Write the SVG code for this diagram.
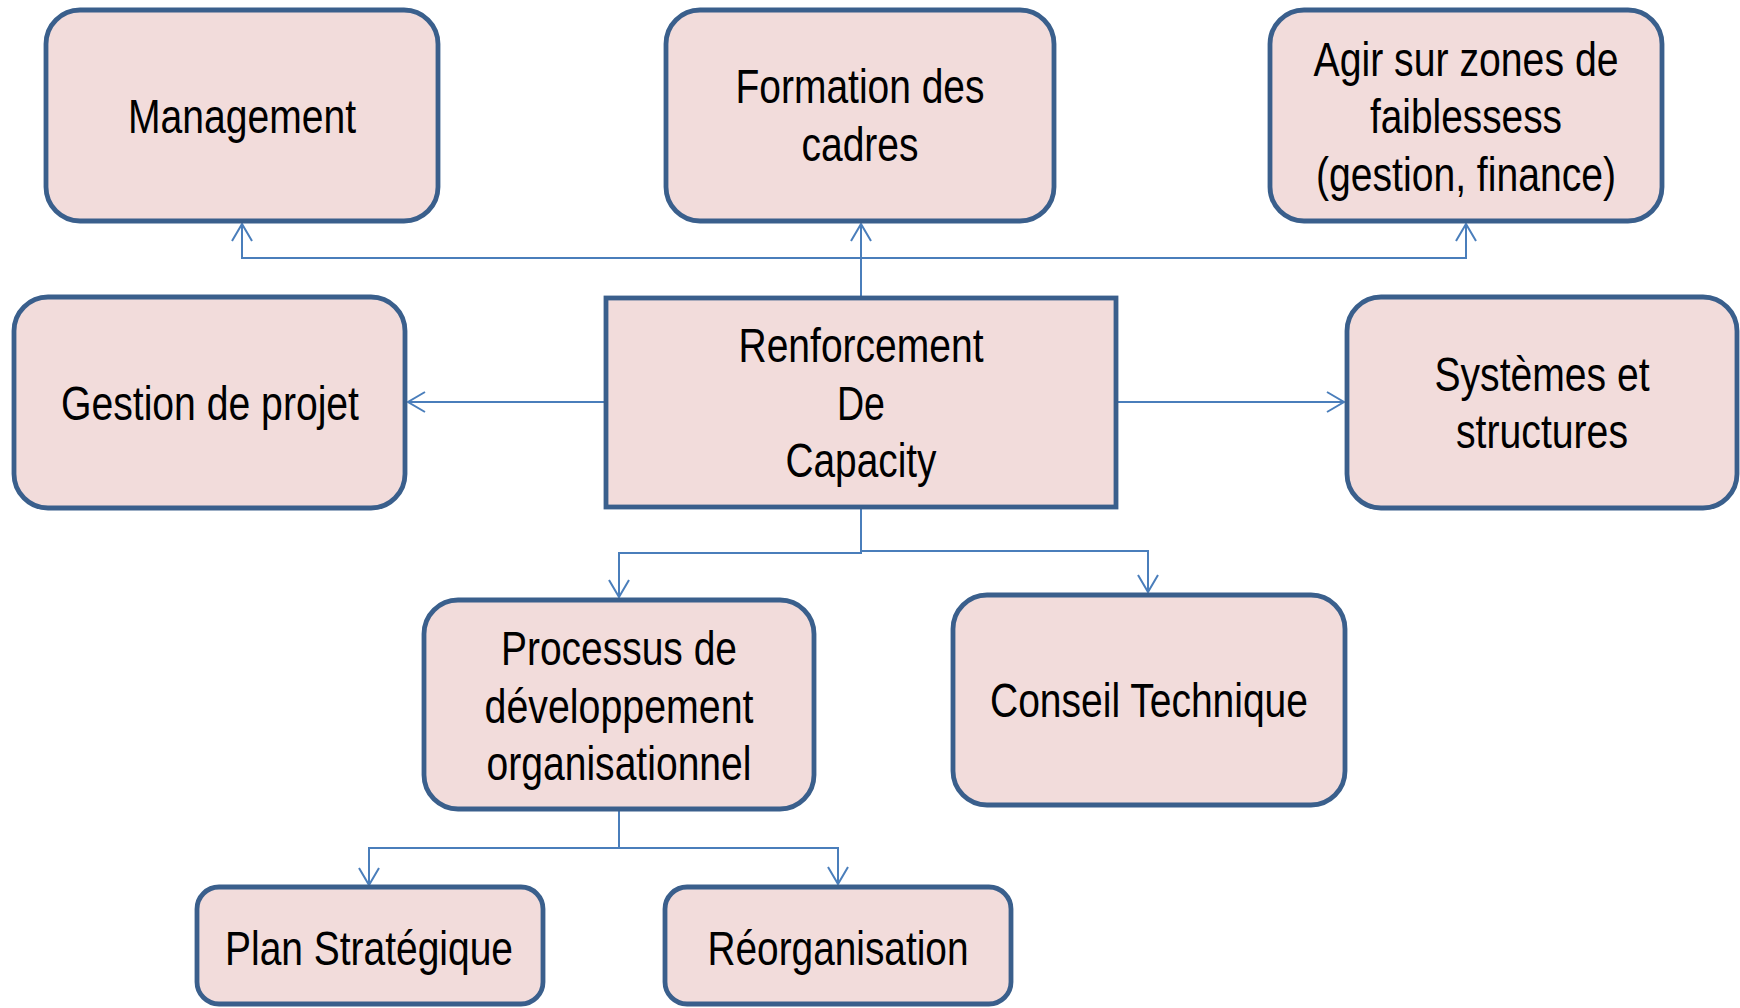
<svg xmlns="http://www.w3.org/2000/svg" width="1740" height="1008" viewBox="0 0 1740 1008">
<style>
.box{fill:#F2DCDB;stroke:#3A5F8C;stroke-width:4.8}
.t{font-family:"Liberation Sans",Arial,sans-serif;font-size:48px;fill:#000;text-anchor:middle}
.c{fill:none;stroke:#4A7EBB;stroke-width:2}
</style>
<defs>
<marker id="arr" markerUnits="userSpaceOnUse" markerWidth="26" markerHeight="26" viewBox="-22 -13 26 26" refX="0" refY="0" orient="auto">
<path d="M-17,-10 L0,0 L-17,10" fill="none" stroke="#4A7EBB" stroke-width="2"/>
</marker>
</defs>
<rect width="1740" height="1008" fill="#fff"/>
<g id="connectors">
<path class="c" d="M861,298 V224" marker-end="url(#arr)"/>
<path class="c" d="M861,258 H242 V224" marker-end="url(#arr)"/>
<path class="c" d="M861,258 H1466 V224" marker-end="url(#arr)"/>
<path class="c" d="M606,402 H408" marker-end="url(#arr)"/>
<path class="c" d="M1116,402 H1344" marker-end="url(#arr)"/>
<path class="c" d="M861,507 V553 H619 V597" marker-end="url(#arr)"/>
<path class="c" d="M861,507 V551 H1148 V592" marker-end="url(#arr)"/>
<path class="c" d="M619,809 V848 H369 V885" marker-end="url(#arr)"/>
<path class="c" d="M619,848 H838 V884" marker-end="url(#arr)"/>
</g>
<g id="management">
<rect class="box" x="46" y="10" width="392" height="211" rx="34"/>
<text class="t" x="242" y="133" textLength="228" lengthAdjust="spacingAndGlyphs">Management</text>
</g>
<g id="formation">
<rect class="box" x="666" y="10" width="388" height="211" rx="34"/>
<text class="t" x="860" y="103" textLength="249" lengthAdjust="spacingAndGlyphs">Formation des</text>
<text class="t" x="860" y="161" textLength="117" lengthAdjust="spacingAndGlyphs">cadres</text>
</g>
<g id="agir">
<rect class="box" x="1270" y="10" width="392" height="211" rx="34"/>
<text class="t" x="1466" y="76" textLength="305" lengthAdjust="spacingAndGlyphs">Agir sur zones de</text>
<text class="t" x="1466" y="133" textLength="192" lengthAdjust="spacingAndGlyphs">faiblessess</text>
<text class="t" x="1466" y="191" textLength="300" lengthAdjust="spacingAndGlyphs">(gestion, finance)</text>
</g>
<g id="gestion">
<rect class="box" x="14" y="297" width="391" height="211" rx="34"/>
<text class="t" x="210" y="420" textLength="298" lengthAdjust="spacingAndGlyphs">Gestion de projet</text>
</g>
<g id="renforcement">
<rect class="box" x="606" y="298" width="510" height="209"/>
<text class="t" x="861" y="362" textLength="245" lengthAdjust="spacingAndGlyphs">Renforcement</text>
<text class="t" x="861" y="420" textLength="48" lengthAdjust="spacingAndGlyphs">De</text>
<text class="t" x="861" y="477" textLength="151" lengthAdjust="spacingAndGlyphs">Capacity</text>
</g>
<g id="systemes">
<rect class="box" x="1347" y="297" width="390" height="211" rx="34"/>
<text class="t" x="1542" y="391" textLength="215" lengthAdjust="spacingAndGlyphs">Systèmes et</text>
<text class="t" x="1542" y="448" textLength="172" lengthAdjust="spacingAndGlyphs">structures</text>
</g>
<g id="processus">
<rect class="box" x="424" y="600" width="390" height="209" rx="34"/>
<text class="t" x="619" y="665" textLength="236" lengthAdjust="spacingAndGlyphs">Processus de</text>
<text class="t" x="619" y="723" textLength="269" lengthAdjust="spacingAndGlyphs">développement</text>
<text class="t" x="619" y="780" textLength="265" lengthAdjust="spacingAndGlyphs">organisationnel</text>
</g>
<g id="conseil">
<rect class="box" x="953" y="595" width="392" height="210" rx="34"/>
<text class="t" x="1149" y="717" textLength="318" lengthAdjust="spacingAndGlyphs">Conseil Technique</text>
</g>
<g id="plan">
<rect class="box" x="197" y="887" width="346" height="117" rx="22"/>
<text class="t" x="369" y="965" textLength="288" lengthAdjust="spacingAndGlyphs">Plan Stratégique</text>
</g>
<g id="reorganisation">
<rect class="box" x="665" y="887" width="346" height="117" rx="22"/>
<text class="t" x="838" y="965" textLength="261" lengthAdjust="spacingAndGlyphs">Réorganisation</text>
</g>
</svg>
